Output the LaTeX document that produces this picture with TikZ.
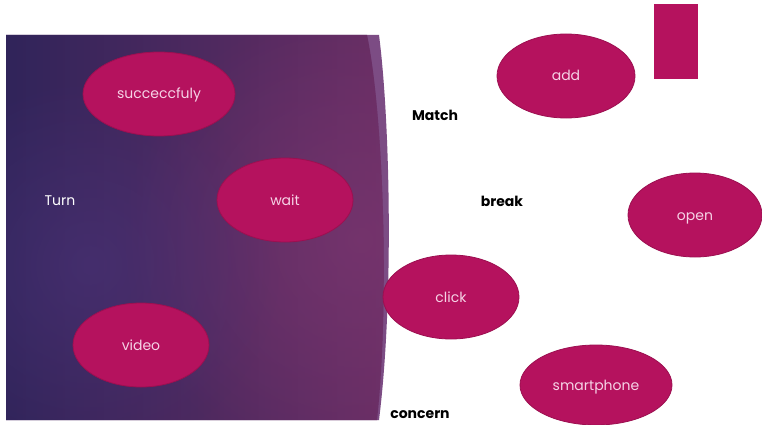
\documentclass[tikz,border=0pt]{standalone}
\usepackage{fontspec}
\setmainfont{Poppins}
\usetikzlibrary{shapes.geometric,fadings}
\definecolor{mag}{HTML}{B5125E}
\definecolor{magedge}{HTML}{9C0F50}
\definecolor{bubtext}{HTML}{F6D3E6}
\definecolor{panelL}{HTML}{30245A}
\definecolor{panelR}{HTML}{6A2E64}
\definecolor{glowblue}{HTML}{4A3378}
\definecolor{glowmag}{HTML}{7A3670}
\definecolor{band}{HTML}{7C4C84}
\tikzfading[name=glowfade, inner color=transparent!0, outer color=transparent!100]
\begin{document}
\begin{tikzpicture}[x=1pt,y=-1pt,
  bub/.style={ellipse, fill=mag, draw=magedge, line width=0.8pt, inner sep=0pt,
    text height=10pt, text depth=0pt,
    minimum width=136, minimum height=84, text=bubtext, font=\fontsize{14}{16}\selectfont},
  lbl/.style={font=\fontsize{14}{16}\selectfont\bfseries, text=black, inner sep=0pt},
  wlbl/.style={font=\fontsize{14}{16}\selectfont, text=white, inner sep=0pt}]
\useasboundingbox (0,0) rectangle (762,425);
\fill[white] (0,0) rectangle (762,425);
% light band along the curved edge
\fill[band] (6,35) -- (379,35) .. controls (390,120) and (394,300) .. (379,420) -- (6,420) -- cycle;
% main panel
\begin{scope}
\clip (6,35) -- (367,35) .. controls (383,110) and (390,300) .. (377,420) -- (6,420) -- cycle;
\shade[left color=panelL, right color=panelR] (6,35) rectangle (395,420);
\fill[glowmag, fill opacity=0.7, path fading=glowfade] (360,240) circle [radius=240pt];
\fill[glowblue, fill opacity=0.6, path fading=glowfade] (90,265) circle [radius=190pt];
\end{scope}
% bubbles
\node[bub, minimum width=152] (succ) at (159,94) {succeccfuly};
\node[bub] (wait) at (285,200) {wait};
\node[bub] (video) at (141,345) {video};
\node[bub] (click) at (451,297) {click};
\node[bub, minimum width=152, minimum height=80] (smart) at (596,385) {smartphone};
\node[bub, minimum width=138] (add) at (566,76) {add};
\node[bub, minimum width=134] (open) at (695,215) {open};
\node[fill=mag, inner sep=0pt, minimum width=44, minimum height=75] (rect) at (676,41.5) {};
% labels
\node[wlbl] (turn) at (60,201) {Turn};
\node[lbl] (match) at (435,115) {Match};
\node[lbl] (break) at (502,201) {break};
\node[lbl] (concern) at (420,415) {concern};
\end{tikzpicture}
\end{document}
